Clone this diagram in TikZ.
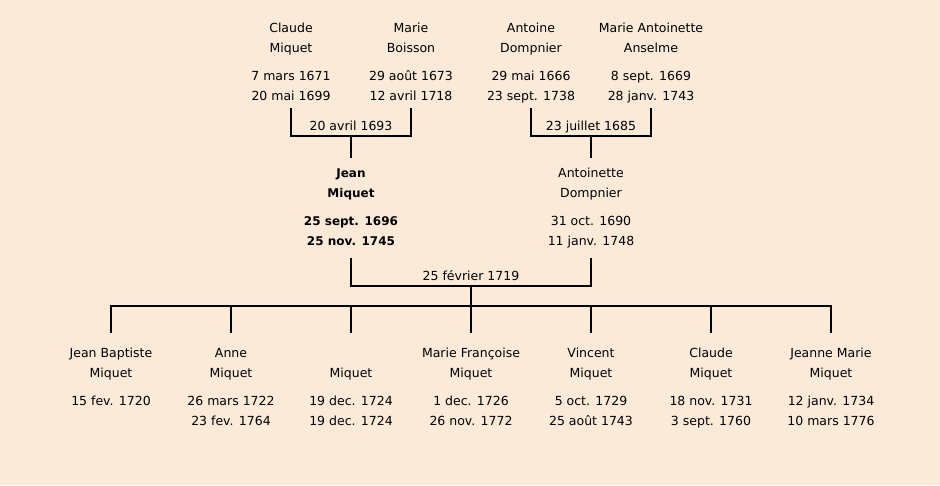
\documentclass[tikz,border=0pt]{standalone}
\usepackage{fontspec}
\setmainfont{DejaVu Sans}
\definecolor{bg}{RGB}{252,234,216}
\tikzset{
  txt/.style={anchor=base, inner sep=0pt, font=\fontsize{12.5}{15}\selectfont},
  link/.style={line width=2pt, draw=black},
}
\newcommand\bsm{\fontsize{12}{15}\selectfont\bfseries}
% #1 name, #2 x, #3 baseline y of first line, #4..#7 lines
\newcommand\famperson[7]{%
  \node[txt] (#1) at (#2,#3) {#4};
  \node[txt] (#1-b) at (#2,#3+20) {#5};
  \node[txt] (#1-c) at (#2,#3+48) {#6};
  \node[txt] (#1-d) at (#2,#3+68) {#7};}
\begin{document}
\begin{tikzpicture}[x=1pt,y=-1pt]
\fill[bg] (0,0) rectangle (940,485);
\useasboundingbox (0,0) rectangle (940,485);
% grandparents
\famperson{claude}{291}{32.5}{Claude}{Miquet}{7 mars 1671}{20 mai 1699}
\famperson{boisson}{411}{32.5}{Marie}{Boisson}{29 août 1673}{12 avril 1718}
\famperson{antoine}{531}{32.5}{Antoine}{Dompnier}{29 mai 1666}{23 sept. 1738}
\famperson{anselme}{651}{32.5}{Marie Antoinette}{Anselme}{8 sept. 1669}{28 janv. 1743}
% parents
\famperson{jean}{351}{177.5}{\bsm Jean}{\bsm Miquet}{\bsm 25 sept. 1696}{\bsm 25 nov. 1745}
\famperson{antoinette}{591}{177.5}{Antoinette}{Dompnier}{31 oct. 1690}{11 janv. 1748}
% children
\famperson{c1}{111}{357}{Jean Baptiste}{Miquet}{15 fev. 1720}{}
\famperson{c2}{231}{357}{Anne}{Miquet}{26 mars 1722}{23 fev. 1764}
\famperson{c3}{351}{357}{}{Miquet}{19 dec. 1724}{19 dec. 1724}
\famperson{c4}{471}{357}{Marie Françoise}{Miquet}{1 dec. 1726}{26 nov. 1772}
\famperson{c5}{591}{357}{Vincent}{Miquet}{5 oct. 1729}{25 août 1743}
\famperson{c6}{711}{357}{Claude}{Miquet}{18 nov. 1731}{3 sept. 1760}
\famperson{c7}{831}{357}{Jeanne Marie}{Miquet}{12 janv. 1734}{10 mars 1776}
% marriage labels
\node[txt] (w1) at (351,130.5) {20 avril 1693};
\node[txt] (w2) at (591,130.5) {23 juillet 1685};
\node[txt] (w3) at (471,280.5) {25 février 1719};
% junction points
\coordinate (m1) at (351,136);
\coordinate (m2) at (591,136);
\coordinate (m3) at (471,286);
\coordinate (kids) at (471,305.5);
% connectors
\draw[link] ([yshift=-7.5pt]claude-d.base) -- (claude-d.base |- m1) -- (boisson-d.base |- m1) -- ([yshift=-7.5pt]boisson-d.base);
\draw[link] (m1) -- ([yshift=20pt]jean.base);
\draw[link] ([yshift=-7.5pt]antoine-d.base) -- (antoine-d.base |- m2) -- (anselme-d.base |- m2) -- ([yshift=-7.5pt]anselme-d.base);
\draw[link] (m2) -- ([yshift=20pt]antoinette.base);
\draw[link] ([yshift=-12pt]jean-d.base) -- (jean-d.base |- m3) -- (antoinette-d.base |- m3) -- ([yshift=-12pt]antoinette-d.base);
\draw[link] (m3) -- (kids);
\draw[link] ([yshift=24pt]c1.base) -- (c1.base |- kids) -- (c7.base |- kids) -- ([yshift=24pt]c7.base);
\foreach \c in {c2,c3,c4,c5,c6}
  \draw[link] (\c.base |- kids) -- ([yshift=24pt]\c.base);
\end{tikzpicture}
\end{document}
